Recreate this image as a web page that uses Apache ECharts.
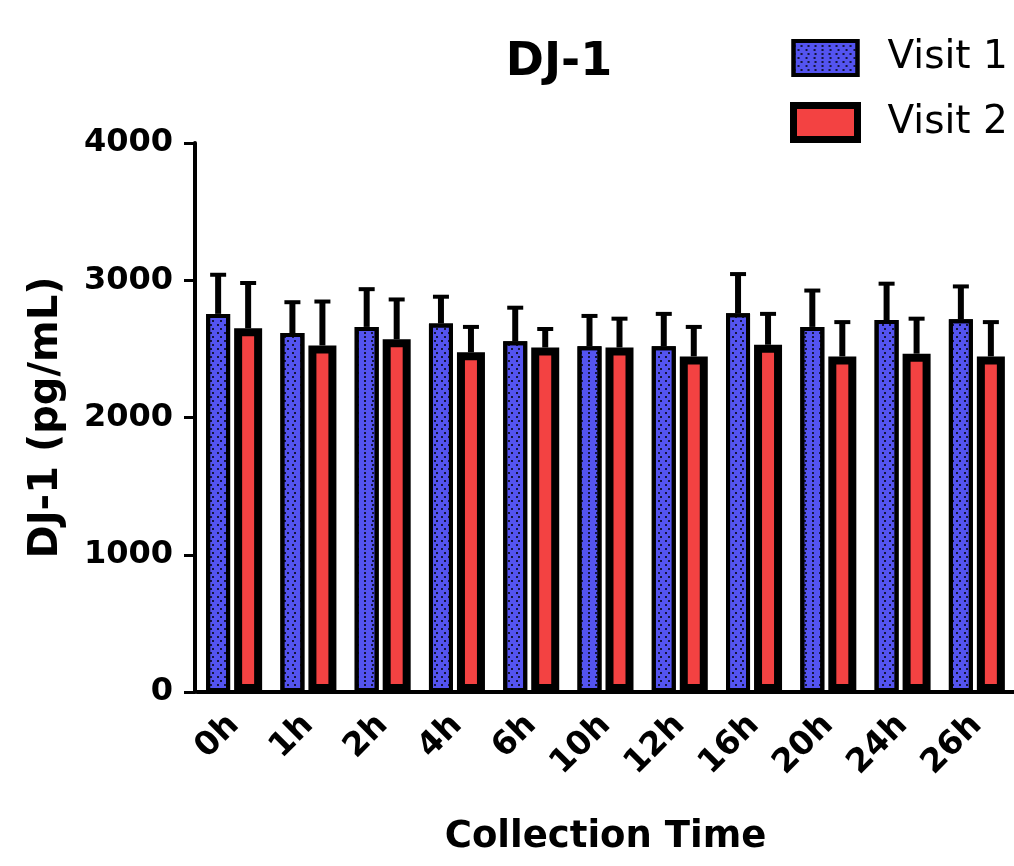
<!DOCTYPE html>
<html>
<head>
<meta charset="utf-8">
<script src="https://cdn.jsdelivr.net/npm/echarts@6/dist/echarts.min.js"></script>
<style>
  html, body { margin: 0; padding: 0; background: #fff; }
  #chart { width: 1014px; height: 866px; }
</style>
</head>
<body>
<div id="chart"></div>
<script>
// DJ-1 concentration by collection time, mean with upward SD bars
const categories = ['0h', '1h', '2h', '4h', '6h', '10h', '12h', '16h', '20h', '24h', '26h'];
const visit1Mean = [2755, 2615, 2660, 2685, 2555, 2520, 2520, 2760, 2660, 2710, 2715];
const visit1SD   = [285, 225, 275, 195, 245, 220, 235, 285, 265, 265, 240];
const visit2Mean = [2650, 2525, 2570, 2475, 2510, 2510, 2445, 2530, 2445, 2465, 2445];
const visit2SD   = [330, 320, 290, 185, 135, 210, 215, 225, 250, 255, 250];
const yTicks = [0, 1000, 2000, 3000, 4000];

const FONT = 'DejaVu Sans';
const BLUE = '#5454F0';
const RED = '#F34242';
// bar widths (borders are drawn inside the bar rectangle)
const W1 = 24;
const W2 = 28;
const GAP = 4;
// centre offsets of each bar within its category band
const PAIR = W1 + GAP + W2;
const OFF1 = -PAIR / 2 + W1 / 2;
const OFF2 = PAIR / 2 - W2 / 2;

function errorBars(offset) {
  return function (params, api) {
    const idx = api.value(0);
    const mean = api.value(1);
    const sd = api.value(2);
    const base = api.coord([idx, mean]);
    const top = api.coord([idx, mean + sd]);
    const cx = base[0] + offset;
    return {
      type: 'group',
      children: [
        { type: 'line', shape: { x1: cx, y1: base[1], x2: cx, y2: top[1] },
          style: { stroke: '#000', lineWidth: 6 } },
        { type: 'line', shape: { x1: cx - 8, y1: top[1], x2: cx + 8, y2: top[1] },
          style: { stroke: '#000', lineWidth: 4 } }
      ]
    };
  };
}

const dotDecal = {
  symbol: 'circle',
  symbolSize: 1,
  color: '#000',
  dashArrayX: [[2, 5], [0, 3.5, 2, 1.5]],
  dashArrayY: [2, 2]
};

const chart = echarts.init(document.getElementById('chart'), null, { renderer: 'canvas' });

chart.setOption({
  animation: false,
  backgroundColor: '#fff',
  title: {
    text: 'DJ-1',
    left: 554,
    top: 35,
    textAlign: 'center',
    textStyle: { fontFamily: FONT, fontWeight: 'bold', fontSize: 46, color: '#000' }
  },
  legend: {
    orient: 'vertical',
    left: 785,
    top: 33,
    itemWidth: 64,
    itemHeight: 34,
    itemGap: 24,
    icon: 'rect',
    selectedMode: false,
    data: [
      { name: 'Visit 1', itemStyle: { borderWidth: 4 } },
      { name: 'Visit 2', itemStyle: { borderWidth: 7 } }
    ],
    textStyle: {
      fontFamily: FONT, fontSize: 39, color: '#000', lineHeight: 40,
      padding: [0, 0, 0, 25]
    }
  },
  grid: { left: 197, top: 143, right: -14, bottom: 174, containLabel: false },
  xAxis: {
    type: 'category',
    data: categories,
    name: 'Collection Time',
    nameLocation: 'middle',
    nameGap: 127,
    nameTextStyle: { fontFamily: FONT, fontWeight: 'bold', fontSize: 37, color: '#000' },
    axisLine: { lineStyle: { color: '#000', width: 4 } },
    axisTick: { alignWithLabel: true, length: 20, lineStyle: { color: '#000', width: 4 } },
    axisLabel: {
      rotate: 45, interval: 0, margin: 28,
      fontFamily: FONT, fontWeight: 'bold', fontSize: 33, color: '#000'
    }
  },
  yAxis: {
    type: 'value',
    min: 0,
    max: 4000,
    interval: 1000,
    offset: 2,
    name: 'DJ-1 (pg/mL)',
    nameLocation: 'middle',
    nameGap: 128,
    nameTextStyle: { fontFamily: FONT, fontWeight: 'bold', fontSize: 40, color: '#000' },
    axisLine: { show: true, lineStyle: { color: '#000', width: 4 } },
    axisTick: { show: true, length: 11, lineStyle: { color: '#000', width: 3 } },
    splitLine: { show: false },
    axisLabel: {
      margin: 22,
      fontFamily: FONT, fontWeight: 'bold', fontSize: 32, color: '#000',
      formatter: v => (yTicks.indexOf(v) >= 0 ? String(v) : '')
    }
  },
  series: [
    {
      name: 'Visit 1',
      type: 'bar',
      data: visit1Mean,
      barWidth: W1,
      barGap: (GAP / W1 * 100) + '%',
      itemStyle: { color: BLUE, borderColor: '#000', borderWidth: 4, decal: dotDecal },
      z: 2
    },
    {
      name: 'Visit 2',
      type: 'bar',
      data: visit2Mean,
      barWidth: W2,
      barGap: (GAP / W1 * 100) + '%',
      itemStyle: { color: RED, borderColor: '#000', borderWidth: 8 },
      z: 2
    },
    {
      name: 'Visit 1 SD',
      type: 'custom',
      data: visit1Mean.map((m, i) => [i, m, visit1SD[i]]),
      encode: { x: 0, y: 1 },
      renderItem: errorBars(OFF1),
      z: 3,
      silent: true
    },
    {
      name: 'Visit 2 SD',
      type: 'custom',
      data: visit2Mean.map((m, i) => [i, m, visit2SD[i]]),
      encode: { x: 0, y: 1 },
      renderItem: errorBars(OFF2),
      z: 3,
      silent: true
    }
  ]
});
</script>
</body>
</html>
